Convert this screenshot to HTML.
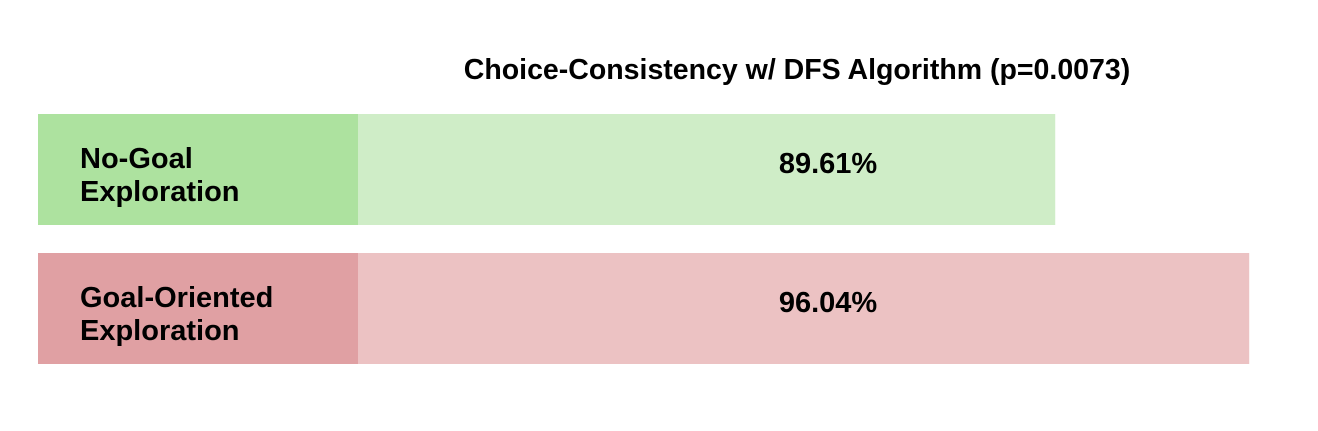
<!DOCTYPE html>
<html><head><meta charset="utf-8"><style>
body{margin:0;background:#fff;width:1318px;height:426px;overflow:hidden;font-family:"Liberation Sans","DejaVu Sans",sans-serif;}
svg text{font-family:"Liberation Sans","DejaVu Sans",sans-serif;font-weight:bold;fill:#000;}
</style></head><body>
<svg id="chart" width="1318" height="426" xmlns="http://www.w3.org/2000/svg">
<text x="797" y="79" text-anchor="middle" font-size="28.5">Choice-Consistency w/ DFS Algorithm (p=0.0073)</text>
</svg>
<script>
const categories = ["No-Goal|Exploration", "Goal-Oriented|Exploration"];
const values = [89.61, 96.04];
const valueLabels = ["89.61%", "96.04%"];
const labelColors = ["#ade29f", "#e0a0a3"];
const barColors = ["#cfedc7", "#ecc2c3"];
const svg = document.getElementById('chart');
const NS = "http://www.w3.org/2000/svg";
const x0 = 358, xMin = 66.5, k = 30.17;
function xScale(v){ return x0 + (v - xMin) * k; }
function yScale(i){ return 114 + i * 139; }
const bh = 111;
categories.forEach((c, i) => {
  const y = yScale(i);
  const lab = document.createElementNS(NS, 'rect');
  lab.setAttribute('x', 38); lab.setAttribute('y', y); lab.setAttribute('width', x0 - 38); lab.setAttribute('height', bh);
  lab.setAttribute('fill', labelColors[i]);
  
  
  svg.appendChild(lab);
  const bar = document.createElementNS(NS, 'rect');
  bar.setAttribute('x', x0); bar.setAttribute('y', y); bar.setAttribute('width', xScale(values[i]) - x0); bar.setAttribute('height', bh);
  bar.setAttribute('fill', barColors[i]);
  
  
  svg.appendChild(bar);
  c.split('|').forEach((line, j) => {
    const t = document.createElementNS(NS, 'text');
    t.setAttribute('x', 80); t.setAttribute('y', y + 54 + j * 33); t.setAttribute('font-size', 29);
    t.textContent = line;
    
    
    svg.appendChild(t);
  });
  const v = document.createElementNS(NS, 'text');
  v.setAttribute('x', 828); v.setAttribute('y', y + 59); v.setAttribute('font-size', 29); v.setAttribute('text-anchor', 'middle');
  v.textContent = valueLabels[i];
  
  
  svg.appendChild(v);
});
</script>
</body></html>
